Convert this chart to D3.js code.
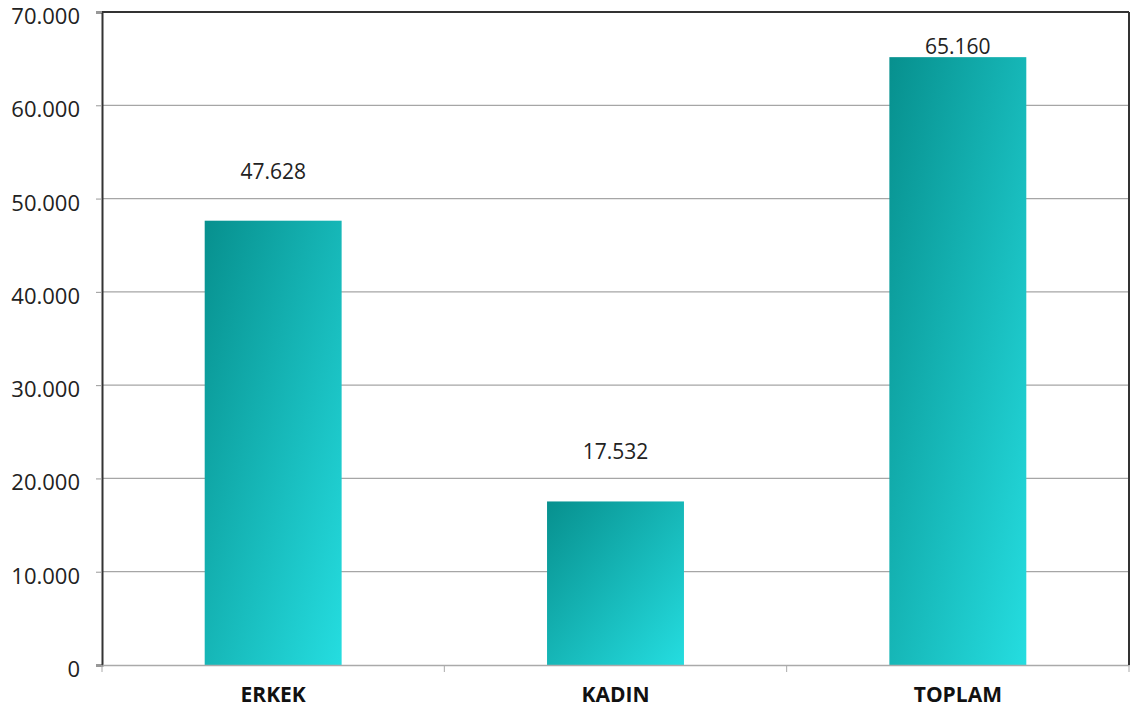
<!DOCTYPE html>
<html>
<head>
<meta charset="utf-8">
<script src="https://cdn.jsdelivr.net/npm/d3@7"></script>
<style>
  body { margin: 0; background: #fff; }
  svg { display: block; font-family: "Open Sans", sans-serif; }
</style>
</head>
<body>
<svg id="chart" width="1133" height="713"></svg>
<script>
// values
const categories = ["ERKEK", "KADIN", "TOPLAM"];
const values = [47628, 17532, 65160];
const yTicks = [0, 10000, 20000, 30000, 40000, 50000, 60000, 70000];

const svg = d3.select("#chart");
const margin = { top: 12, right: 4, bottom: 48, left: 102 };
const width = 1133 - margin.left - margin.right;
const height = 713 - margin.top - margin.bottom;

const fmt = d => d3.format(",")(d).replace(/,/g, ".");

const x = d3.scaleBand()
  .domain(categories)
  .range([0, width])
  .paddingInner(0.6)
  .paddingOuter(0.3);

const y = d3.scaleLinear()
  .domain([0, 70000])
  .range([height, 0]);

const defs = svg.append("defs");
const grad = defs.append("linearGradient")
  .attr("id", "barGrad")
  .attr("x1", 0).attr("y1", 0)
  .attr("x2", 1).attr("y2", 1);
grad.append("stop").attr("offset", "0%").attr("stop-color", "#07908e");
grad.append("stop").attr("offset", "100%").attr("stop-color", "#25dde0");

const g = svg.append("g")
  .attr("transform", `translate(${margin.left},${margin.top})`);

// gridlines
g.append("g")
  .selectAll("line")
  .data(yTicks.slice(1, -1))
  .join("line")
  .attr("x1", 0).attr("x2", width)
  .attr("y1", d => y(d)).attr("y2", d => y(d))
  .attr("stroke", "#a6a6a6")
  .attr("stroke-width", 1.2);

// bars
g.append("g")
  .selectAll("rect")
  .data(values)
  .join("rect")
  .attr("x", (d, i) => x(categories[i]))
  .attr("y", d => y(d))
  .attr("width", x.bandwidth())
  .attr("height", d => height - y(d))
  .attr("fill", "url(#barGrad)");

// value labels
g.append("g")
  .selectAll("text")
  .data(values)
  .join("text")
  .attr("x", (d, i) => x(categories[i]) + x.bandwidth() / 2)
  .attr("y", d => Math.max(y(d) - 42, 42))
  .attr("text-anchor", "middle")
  .attr("font-size", 21)
  .attr("fill", "#222")
  .text(d => fmt(d));

// y axis
const yAxis = g.append("g")
  .call(d3.axisLeft(y).tickValues(yTicks).tickSize(6).tickPadding(16).tickFormat(fmt));
yAxis.select(".domain").attr("stroke", "#333").attr("stroke-width", 2);
yAxis.selectAll(".tick line").attr("stroke", "#999");
yAxis.selectAll("text").attr("font-size", 22).attr("fill", "#222")
  .attr("dy", "0.52em")
  .attr("font-family", "Open Sans, sans-serif");

// x axis
const xAxis = g.append("g")
  .attr("transform", `translate(0,${height})`)
  .call(d3.axisBottom(x).tickSize(0).tickPadding(22));
xAxis.select(".domain").attr("stroke", "#aaa").attr("stroke-width", 1.5);
xAxis.selectAll("text").attr("font-size", 21).attr("font-weight", "bold").attr("fill", "#111")
  .attr("font-family", "Open Sans, sans-serif");

// x boundary ticks
const bounds = d3.range(0, categories.length + 1).map(i => i * x.step());
g.append("g")
  .selectAll("line")
  .data(bounds)
  .join("line")
  .attr("x1", d => d).attr("x2", d => d)
  .attr("y1", height).attr("y2", height + 7)
  .attr("stroke", "#aaa");

// frame top and right
g.append("line")
  .attr("x1", 0).attr("x2", width)
  .attr("y1", 0).attr("y2", 0)
  .attr("stroke", "#333").attr("stroke-width", 2);
g.append("line")
  .attr("x1", width).attr("x2", width)
  .attr("y1", 0).attr("y2", height)
  .attr("stroke", "#333").attr("stroke-width", 2);
</script>
</body>
</html>
